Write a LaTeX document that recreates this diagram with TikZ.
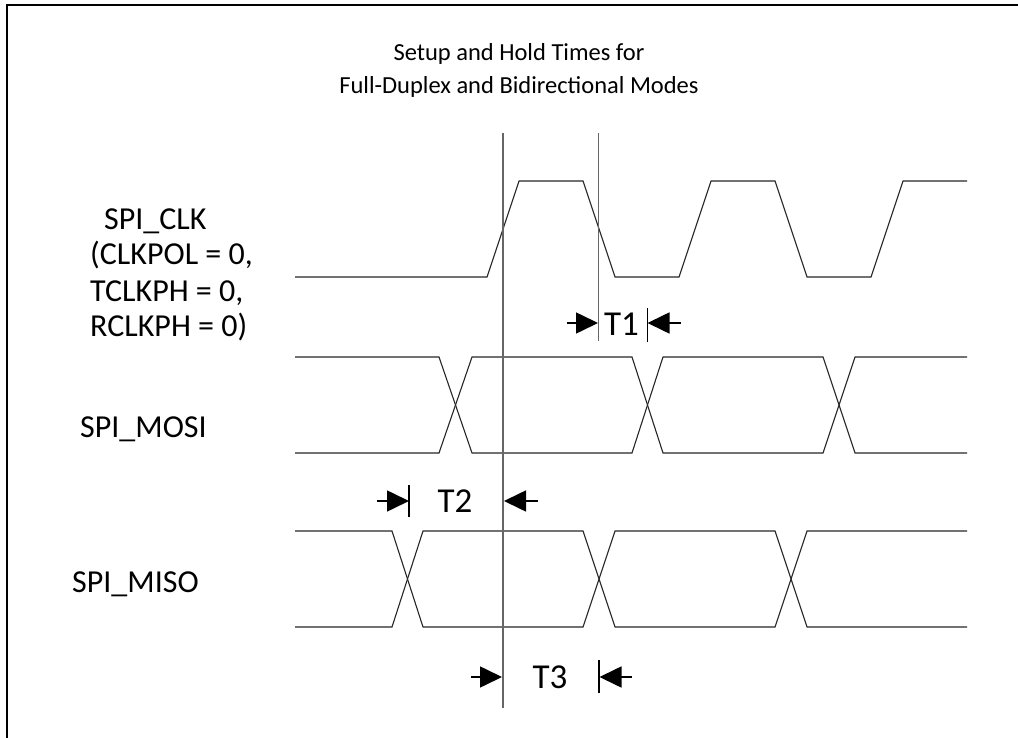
\documentclass[tikz,border=0pt]{standalone}
\usepackage{fontspec}
\setmainfont{Carlito}
\usetikzlibrary{arrows.meta}
\begin{document}
\begin{tikzpicture}[x=1pt,y=-1pt,
  wave/.style={line width=1.1pt,draw=black!85},
  refline/.style={line width=1.4pt,draw=black!60},
  frame/.style={line width=2.5pt,draw=black},
  dimarr/.style={line width=1.6pt,-{Triangle[length=22pt,width=21pt]}},
  dimbar/.style={line width=1.8pt},
  lbl/.style={inner sep=0pt,font=\fontsize{32}{36}\selectfont},
  tlbl/.style={inner sep=0pt,font=\fontsize{35}{40}\selectfont},
  ttl/.style={inner sep=0pt,align=center,font=\fontsize{24.5}{33}\selectfont}]
\useasboundingbox (0,0) rectangle (1018,738);
% frame (only top and left edges visible)
\draw[frame] (7,738) -- (7,5) -- (1018,5);
% title
\node[ttl,anchor=base] (title1) at (519,61) {Setup and Hold Times for};
\node[ttl,anchor=base] (title2) at (519,94) {Full-Duplex and Bidirectional Modes};
% signal labels
\node[lbl,anchor=base west] (clk1) at (104,230) {SPI\_CLK};
\node[lbl,anchor=base west] (clk2) at (90,265) {(CLKPOL = 0,};
\node[lbl,anchor=base west] (clk3) at (90,301.5) {TCLKPH = 0,};
\node[lbl,anchor=base west] (clk4) at (90,337) {RCLKPH = 0)};
\node[lbl,anchor=base west] (mosi) at (80,437) {SPI\_MOSI};
\node[lbl,anchor=base west] (miso) at (72,592) {SPI\_MISO};
% SPI_CLK waveform
\draw[wave] (295,277) -- (487,277) -- (519,181) -- (583,181) -- (615,277)
  -- (679,277) -- (711,181) -- (775,181) -- (807,277) -- (871,277)
  -- (903,181) -- (967,181);
% SPI_MOSI bus
\draw[wave] (295,357) -- (439,357) -- (472,453) -- (632,453) -- (663,357)
  -- (823,357) -- (855,453) -- (967,453);
\draw[wave] (295,453) -- (439,453) -- (472,357) -- (632,357) -- (663,453)
  -- (823,453) -- (855,357) -- (967,357);
% SPI_MISO bus
\draw[wave] (295,531) -- (392,531) -- (423,627) -- (583,627) -- (615,531)
  -- (775,531) -- (807,627) -- (967,627);
\draw[wave] (295,627) -- (392,627) -- (423,531) -- (583,531) -- (615,627)
  -- (775,627) -- (807,531) -- (967,531);
% reference lines
\coordinate (r1top) at (503,133);
\coordinate (r1bot) at (503,708);
\coordinate (r2top) at (598.5,133);
\coordinate (r2bot) at (598.5,341);
\draw[refline] (r1top) -- (r1bot);
\draw[refline] (r2top) -- (r2bot);
% T1
\coordinate (t1a) at (567,323);
\coordinate (t1b) at (598,323);
\coordinate (t1c) at (681,323);
\coordinate (t1d) at (647.5,323);
\draw[dimarr] (t1a) -- (t1b);
\draw[dimbar] (647.5,308) -- (647.5,342);
\draw[dimarr] (t1c) -- (t1d);
\node[tlbl,anchor=base] (T1) at (621.5,335) {T1};
% T2
\coordinate (t2a) at (377,501);
\coordinate (t2b) at (409,501);
\coordinate (t2c) at (538,501);
\coordinate (t2d) at (504,501);
\draw[dimarr] (t2a) -- (t2b);
\draw[dimbar] (409,485) -- (409,517);
\draw[dimarr] (t2c) -- (t2d);
\node[tlbl,anchor=base] (T2) at (455,512) {T2};
% T3
\coordinate (t3a) at (471,677);
\coordinate (t3b) at (502,677);
\coordinate (t3c) at (632,677);
\coordinate (t3d) at (599.5,677);
\draw[dimarr] (t3a) -- (t3b);
\draw[dimbar] (599,660) -- (599,693);
\draw[dimarr] (t3c) -- (t3d);
\node[tlbl,anchor=base] (T3) at (550,688) {T3};
\end{tikzpicture}
\end{document}
